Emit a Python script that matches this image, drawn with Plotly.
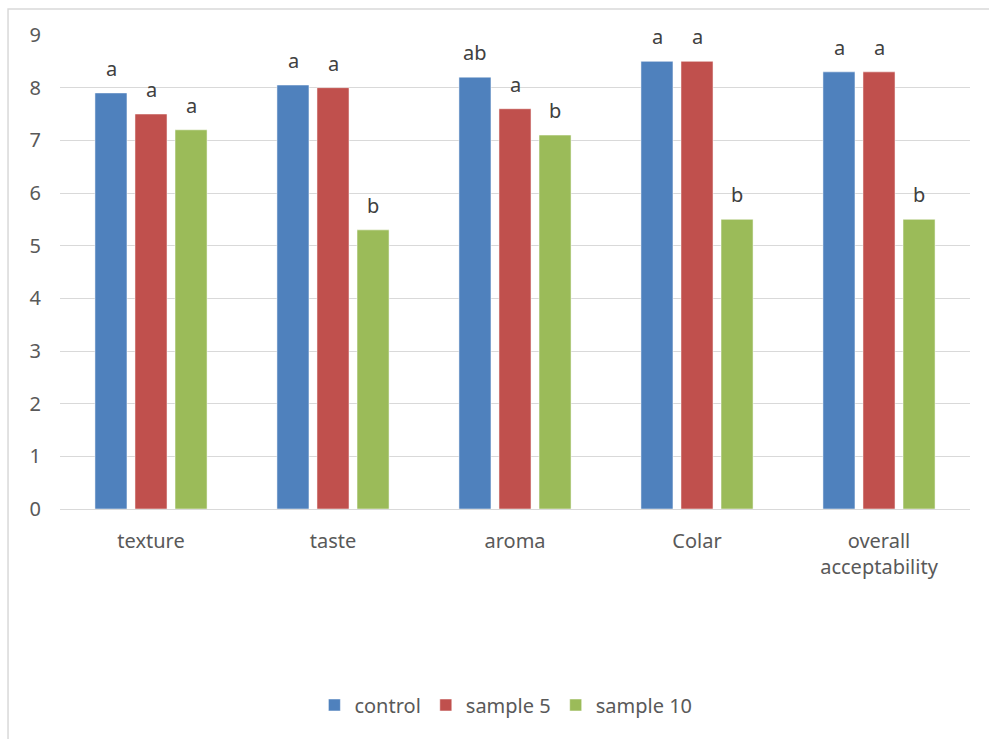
import plotly.graph_objects as go

# Sensory scores per attribute
categories = ["texture", "taste", "aroma", "Colar", "overall<br>acceptability"]
series_names = ["control", "sample 5", "sample 10"]
control = [7.9, 8.05, 8.2, 8.5, 8.3]
sample5 = [7.5, 8.0, 7.6, 8.5, 8.3]
sample10 = [7.2, 5.3, 7.1, 5.5, 5.5]

# Significance letters shown above each bar
letters_control = ["a", "a", "ab", "a", "a"]
letters_sample5 = ["a", "a", "a", "a", "a"]
letters_sample10 = ["a", "b", "b", "b", "b"]

y_ticks = [0, 1, 2, 3, 4, 5, 6, 7, 8, 9]

colors = ["#4f81bd", "#c0504d", "#9bbb59"]
text_color = "#595959"
font_family = "Noto Sans, Open Sans, sans-serif"

values = [control, sample5, sample10]
letters = [letters_control, letters_sample5, letters_sample10]

fig = go.Figure()
for name, vals, col in zip(series_names, values, colors):
    fig.add_trace(go.Bar(
        name=name, x=categories, y=vals,
        marker=dict(color=col, line=dict(color="rgba(255,255,255,0.5)", width=1)),
    ))

# Letters positioned over their bars: group slots are 40px apart
shifts = [-40, 0, 40]
for vals, lets, dx in zip(values, letters, shifts):
    for cat, v, t in zip(categories, vals, lets):
        fig.add_annotation(
            x=cat, y=v, text=t, showarrow=False,
            xshift=dx, yshift=9, yanchor="bottom",
            font=dict(size=20, color="#404040", family=font_family),
        )

# Outer chart frame
fig.add_shape(
    type="rect", xref="paper", yref="paper",
    x0=-0.0571, y0=-0.6, x1=1.1, y1=1.0549,
    line=dict(color="#d9d9d9", width=1.5), fillcolor="rgba(0,0,0,0)", layer="below",
)

fig.update_layout(
    width=989, height=739,
    margin=dict(l=60, r=19, t=35, b=230),
    paper_bgcolor="white", plot_bgcolor="white",
    barmode="group", bargap=0.34, bargroupgap=0.2,
    font=dict(family=font_family, size=20, color=text_color),
    showlegend=True,
    legend=dict(
        orientation="h", x=0.49, xanchor="center", y=-0.4135, yanchor="middle",
        font=dict(size=20, color=text_color), itemwidth=30, traceorder="normal",
    ),
    xaxis=dict(
        showline=False, showgrid=False, ticks="", ticklabelstandoff=18,
        tickfont=dict(size=20, color=text_color),
    ),
    yaxis=dict(
        range=[0, 9], tickvals=y_ticks, showgrid=True, gridcolor="#d9d9d9", gridwidth=1.3,
        zeroline=True, zerolinecolor="#d9d9d9", zerolinewidth=1.3,
        showline=False, ticks="", ticklabelstandoff=18,
        tickfont=dict(size=20, color=text_color),
    ),
)

fig.write_html("out.html")
